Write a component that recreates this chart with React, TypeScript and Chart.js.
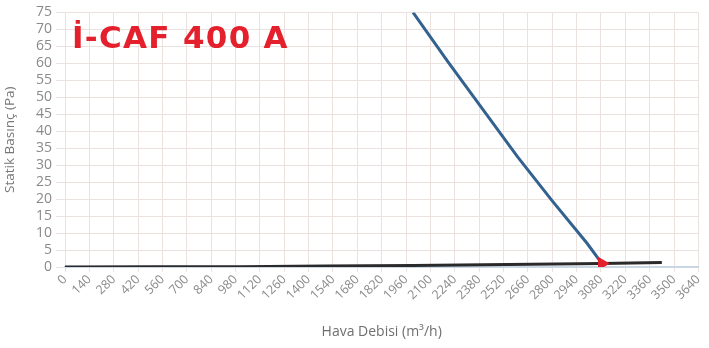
import React, { useEffect, useRef } from "react";
import { Chart, registerables } from "chart.js";

Chart.register(...registerables);

const chartTitle = "İ-CAF 400 A";
const xTitle = "Hava Debisi (m³/h)";
const yTitle = "Statik Basınç (Pa)";

const fanFlow = [2000, 2200, 2400, 2600, 2800, 3000, 3086];
const fanPressure = [75, 60.5, 46.5, 32.5, 19.5, 7.0, 1.0];

const systemFlow = [0, 1000, 2000, 3086, 3430];
const systemPressure = [0, 0.1, 0.45, 1.0, 1.3];

const opFlow = [3086];
const opPressure = [1.0];

const xMin = 0;
const xMax = 3640;
const xStep = 140;
const yMin = 0;
const yMax = 75;
const yStep = 5;

const toPts = (xs: number[], ys: number[]) => xs.map((x, i) => ({ x, y: ys[i] }));

export default function App() {
  const ref = useRef<HTMLCanvasElement | null>(null);

  useEffect(() => {
    document.body.style.margin = "0";
    const ctx = ref.current!.getContext("2d")!;
    const grid = "#ebe1df";
    const chart = new Chart(ctx, {
      type: "scatter",
      data: {
        datasets: [
          {
            label: "op",
            data: toPts(opFlow, opPressure),
            showLine: false,
            pointStyle: "triangle",
            rotation: 90,
            pointRadius: 7,
            backgroundColor: "#e3202b",
            borderColor: "#e3202b",
            borderWidth: 1,
            order: 0,
          },
          {
            label: "fan",
            data: toPts(fanFlow, fanPressure),
            showLine: true,
            borderColor: "#33628f",
            borderWidth: 3,
            pointRadius: 0,
            tension: 0,
            order: 1,
          },
          {
            label: "system",
            data: toPts(systemFlow, systemPressure),
            showLine: true,
            borderColor: "#2a2a2a",
            borderWidth: 3,
            pointRadius: 0,
            tension: 0.2,
            order: 2,
          },
        ],
      },
      options: {
        animation: false,
        responsive: false,
        maintainAspectRatio: false,
        layout: { padding: { left: 0, right: 7, top: 8, bottom: 0 } },
        plugins: { legend: { display: false }, tooltip: { enabled: false } },
        scales: {
          x: {
            type: "linear",
            min: xMin,
            max: xMax,
            afterFit: (s: any) => {
              s.height = 81;
            },
            ticks: {
              stepSize: xStep,
              autoSkip: false,
              minRotation: 45,
              maxRotation: 45,
              color: "#8a8a8a",
              font: { family: "Open Sans", size: 12.5 },
              padding: 0,
              callback: (v: any) => String(v),
            },
            grid: { color: grid, tickLength: 5, lineWidth: 1 },
            border: { color: "#c9d6e4", width: 2 },
            title: {
              display: true,
              text: xTitle,
              color: "#6f6f6f",
              font: { family: "Open Sans", size: 14 },
              padding: { top: 2, bottom: 8 },
            },
          },
          y: {
            type: "linear",
            min: yMin,
            max: yMax,
            afterFit: (s: any) => {
              s.width = 65;
            },
            ticks: {
              stepSize: yStep,
              autoSkip: false,
              color: "#8a8a8a",
              font: { family: "Open Sans", size: 14 },
              padding: 4,
              callback: (v: any) => String(v),
            },
            grid: { color: grid, tickLength: 9, lineWidth: 1 },
            border: { color: grid },
            title: {
              display: true,
              text: yTitle,
              color: "#777777",
              font: { family: "Open Sans", size: 13.5 },
              padding: { top: 2, bottom: 0 },
            },
          },
        },
      },
    });
    return () => chart.destroy();
  }, []);

  return (
    <div style={{ position: "relative", width: 709, height: 348, background: "#fff" }}>
      <canvas ref={ref} width={709} height={348} style={{ display: "block" }} />
      <div
        style={{
          position: "absolute",
          left: 72,
          top: 17,
          color: "#e3202b",
          fontFamily: "'DejaVu Sans', sans-serif",
          fontWeight: "bold",
          fontSize: 31,
          letterSpacing: 1.3,
          lineHeight: "40px",
          whiteSpace: "nowrap",
        }}
      >
        {chartTitle}
      </div>
    </div>
  );
}
